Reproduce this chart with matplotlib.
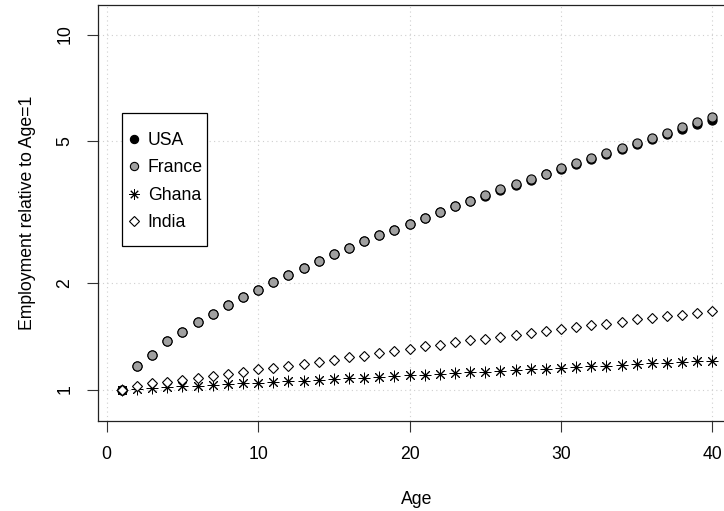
import matplotlib
matplotlib.use("Agg")
import matplotlib.pyplot as plt
from matplotlib.patches import Rectangle
import numpy as np

plt.rcParams['font.family'] = ['Liberation Sans', 'DejaVu Sans']

age = list(range(1, 41))
france = [1.000, 1.163, 1.255, 1.368, 1.450, 1.547, 1.637, 1.735, 1.820, 1.913,
          2.006, 2.104, 2.202, 2.298, 2.401, 2.506, 2.617, 2.716, 2.823, 2.930,
          3.045, 3.158, 3.284, 3.393, 3.521, 3.660, 3.781, 3.923, 4.053, 4.194,
          4.352, 4.496, 4.644, 4.796, 4.954, 5.117, 5.290, 5.490, 5.662, 5.860]
usa = [1.000, 1.163, 1.255, 1.368, 1.450, 1.547, 1.637, 1.735, 1.820, 1.913,
       2.006, 2.104, 2.202, 2.298, 2.401, 2.506, 2.617, 2.716, 2.823, 2.930,
       3.045, 3.158, 3.284, 3.393, 3.515, 3.650, 3.770, 3.905, 4.035, 4.170,
       4.325, 4.465, 4.610, 4.760, 4.910, 5.070, 5.230, 5.420, 5.590, 5.760]
ghana = [1.000, 1.005, 1.010, 1.014, 1.020, 1.024, 1.030, 1.034, 1.040, 1.044,
         1.049, 1.055, 1.059, 1.065, 1.070, 1.075, 1.080, 1.086, 1.091, 1.096,
         1.101, 1.106, 1.112, 1.117, 1.123, 1.128, 1.134, 1.139, 1.145, 1.150,
         1.156, 1.162, 1.167, 1.173, 1.178, 1.185, 1.190, 1.196, 1.202, 1.207]
india = [1.000, 1.022, 1.040, 1.051, 1.067, 1.079, 1.095, 1.109, 1.122, 1.139,
         1.151, 1.163, 1.181, 1.197, 1.209, 1.233, 1.247, 1.269, 1.282, 1.302,
         1.324, 1.339, 1.359, 1.377, 1.389, 1.408, 1.428, 1.444, 1.459, 1.483,
         1.502, 1.518, 1.534, 1.547, 1.575, 1.592, 1.609, 1.626, 1.644, 1.662]

xticks = [0, 10, 20, 30, 40]
yticks = [1, 2, 5, 10]

FS = 12.7
W, H = 724, 511
fig = plt.figure(figsize=(W / 100, H / 100), dpi=100)
left_px, right_px, top_px, bottom_px = 98.3, 736.0, 5.0, 420.7
ax = fig.add_axes([left_px / W, 1 - bottom_px / H,
                   (right_px - left_px) / W, (bottom_px - top_px) / H])

ax.set_yscale('log')
ax.set_xlim(-0.555, 41.56)
ax.set_ylim(0.817, 12.11)

for xv in xticks:
    ax.axvline(xv, color='#cfcfcf', lw=0.8, ls=(0, (1, 3)), zorder=0)
for yv in yticks:
    ax.axhline(yv, color='#cfcfcf', lw=0.8, ls=(0, (1, 3)), zorder=0)

ax.plot(age, usa, ls='none', marker='o', ms=6.6, mfc='black', mec='black',
        mew=0.8, label='USA', zorder=3)
ax.plot(age, france, ls='none', marker='o', ms=6.6, mfc='#a0a0a0', mec='black',
        mew=0.8, label='France', zorder=4)
ax.plot(age, ghana, ls='none', marker=(8, 2, 0), ms=8.3, color='black',
        mew=0.7, label='Ghana', zorder=5)
ax.plot(age, india, ls='none', marker='D', ms=5.2, mfc='white', mec='black',
        mew=0.8, label='India', zorder=6)

ax.set_xticks(xticks)
ax.set_xticklabels([str(v) for v in xticks])
ax.set_yticks(yticks)
ax.set_yticklabels([str(v) for v in yticks], rotation=90, va='center')
ax.yaxis.set_minor_locator(matplotlib.ticker.NullLocator())
ax.tick_params(axis='both', direction='out', length=8, width=0.8,
               labelsize=FS, pad=10, color='#333333')

for s in ['left', 'bottom', 'top']:
    ax.spines[s].set_linewidth(0.9)
    ax.spines[s].set_color('#222222')
ax.spines['right'].set_visible(False)

ax.set_xlabel('Age', fontsize=FS, labelpad=20.5)
ax.set_ylabel('Employment relative to Age=1', fontsize=FS, labelpad=14.8)

# legend box (R style: tight on the right)
box = Rectangle((122 / W, 1 - 246 / H), 85 / W, 133 / H,
                transform=fig.transFigure, facecolor='white',
                edgecolor='black', lw=0.9, zorder=8)
ax.add_patch(box)

leg = ax.legend(loc='upper left', bbox_to_anchor=(130.4 / W, 1 - 131.9 / H),
                bbox_transform=fig.transFigure, frameon=False,
                borderaxespad=0, borderpad=0, fontsize=FS,
                handlelength=0.4, handletextpad=0.59, labelspacing=0.595,
                markerscale=0.9)
leg.set_zorder(10)

fig.savefig('out.png', dpi=100)
